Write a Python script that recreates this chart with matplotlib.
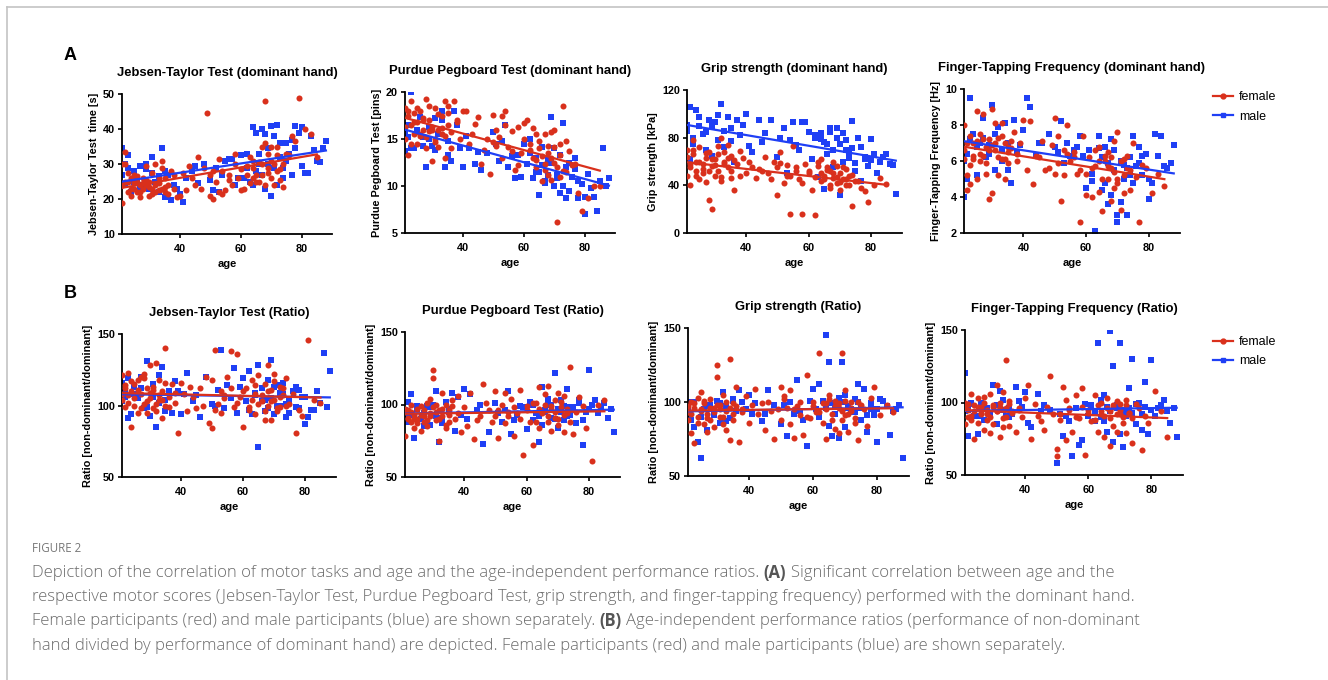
import matplotlib
matplotlib.use("Agg")
import matplotlib.pyplot as plt
from matplotlib.lines import Line2D
import numpy as np

W, H = 1328, 680
RED = "#d9301c"
BLUE = "#1f3ff5"
CAP = "#6b6b6b"

# participant ages (same participants in every panel)
FEMALE_AGE = [21, 21, 22, 22, 23, 23, 24, 24, 25, 25,
              26, 26, 27, 27, 28, 28, 29, 29, 30, 30,
              31, 31, 32, 32, 33, 33, 34, 34, 35, 35,
              36, 37, 38, 39, 40, 41, 42, 43, 45, 46,
              48, 49, 50, 50, 51, 52, 53, 53, 54, 55,
              56, 57, 58, 59, 60, 61, 62, 63, 64, 64,
              65, 66, 67, 67, 68, 68, 69, 69, 70, 70,
              71, 72, 72, 73, 74, 75, 77, 79, 81, 85,
              21, 22, 23, 24, 25, 26, 27, 28, 29, 30,
              31, 32, 33, 34, 35, 36, 38, 44, 47, 51,
              54, 56, 58, 60, 62, 63, 64, 65, 66, 67,
              68, 69, 70, 71, 72, 73, 74, 76, 78, 83]
MALE_AGE = [21, 22, 22, 23, 24, 25, 26, 27, 28, 29,
            30, 31, 32, 33, 34, 35, 36, 37, 38, 40,
            41, 42, 44, 46, 48, 50, 52, 53, 54, 55,
            57, 58, 60, 61, 62, 63, 64, 65, 65, 66,
            67, 68, 68, 69, 70, 70, 71, 72, 73, 74,
            75, 76, 77, 78, 79, 80, 82, 84, 86, 88,
            21, 23, 25, 27, 29, 31, 33, 35, 39, 45,
            51, 56, 59, 62, 64, 66, 67, 69, 71, 72,
            73, 74, 75, 77, 78, 80, 81, 83, 85, 87]

# A: dominant hand scores
JT_F = [19, 24, 30, 33.5, 25, 22, 26, 21, 23, 27,
        22, 25, 20.5, 24, 26, 23, 29.5, 24, 21, 25,
        23, 27.5, 22, 30, 24.5, 22.5, 29, 23, 22, 26,
        24, 28, 23, 20.5, 21, 27.5, 22.5, 29.5, 24, 32,
        29, 44.5, 21, 27, 20, 25, 22, 31.5, 28, 22.5,
        27, 24, 30, 26, 28.5, 23, 27, 32, 26, 29,
        25, 30.5, 35, 27, 48, 24, 29, 33, 26, 35,
        30, 28, 32.5, 25.5, 23.5, 33, 38, 48.8, 40, 32,
        30, 25, 27.5, 23, 24.5, 26.5, 22, 24.5, 25.5, 23.5,
        21.5, 24, 26, 31, 23.5, 21.5, 27, 26, 23, 28,
        21.5, 25.5, 33, 22.5, 29.5, 24.5, 31, 27, 25, 30,
        36, 27.5, 31, 24, 35, 28.5, 30, 32.5, 36.5, 38.5]
JT_M = [34.5, 30, 24, 32.5, 22, 28, 26, 29.5, 24, 28.5,
        23, 32, 25, 26.5, 34.5, 20.5, 27, 19.8, 24, 21.5,
        19.2, 26, 28, 24.5, 30, 25.5, 29, 22, 27, 31,
        31.5, 24, 32.5, 26, 29, 25, 40.5, 39, 28, 33,
        40, 38.5, 23, 30, 41, 21, 38, 41.2, 36, 26,
        31, 33, 37, 34.5, 39, 40.5, 27.5, 34, 30.5, 36.5,
        27, 29, 25, 23, 30, 27.5, 22, 28, 23, 29.5,
        22.5, 31.5, 26, 33, 24, 30, 27, 34.5, 29, 24,
        32, 29, 36, 27, 41, 29.5, 27.5, 38, 31, 34.5]
PP_F = [18.3, 15, 17.5, 13.3, 19, 16.5, 15.5, 17.8, 16.8, 14.5,
        18, 15.3, 16, 17.2, 19.3, 14, 15.8, 17, 16.3, 12.7,
        18.3, 15, 16, 14.2, 17.5, 15.5, 19, 13, 16.5, 18.5,
        14, 19, 16.8, 15, 18, 18, 14.5, 15.5, 17.3, 12.3,
        15, 11.3, 17.6, 14.7, 16, 15.2, 13, 17.4, 18, 14.2,
        15.8, 11.7, 16.3, 13.5, 16.7, 17, 14.5, 13, 15.5, 12,
        14, 10.5, 15.5, 12.3, 14.3, 11.2, 15.7, 13, 12.5, 16,
        6.2, 14.5, 11, 18.5, 11.5, 13.7, 12.3, 7.3, 8.7, 10,
        16.3, 18, 14.5, 16.8, 18.3, 15.5, 17, 15.2, 18.5, 16,
        14.7, 17.7, 16.2, 15.3, 17.8, 15.7, 17, 16.6, 13.8, 14.3,
        16.5, 13.7, 12.2, 15, 13.8, 16.2, 12.8, 14.8, 13.2, 11.7,
        13.5, 10.6, 14.2, 12, 13.3, 11.6, 14.8, 12.2, 9.3, 10]
PP_M = [13.7, 15.2, 16.5, 20, 14, 15.7, 17.3, 15.2, 12, 16.3,
        14.3, 17.2, 15.5, 18, 12, 14.8, 12.7, 18, 16.5, 12,
        15.3, 14, 12.3, 11.7, 13.5, 15.7, 12.7, 14.8, 16.5, 12,
        10.8, 13.3, 14.5, 12.3, 15, 10.8, 13, 9, 11.5, 14.2,
        10.3, 12.8, 11.2, 17.3, 10, 14, 10.8, 9.3, 16.7, 8.7,
        12.5, 11, 13, 8.7, 10.2, 7, 9.8, 7.3, 14, 10.8,
        15.5, 14, 16, 14.3, 15, 13.8, 17, 13.3, 14, 13.6,
        14.5, 13.2, 11, 13.5, 11.5, 12.2, 10.5, 12.5, 11.2, 13.3,
        10, 12, 9.5, 11.8, 10.5, 8.8, 11.3, 8.8, 10.5, 10]
GS_F = [48, 70, 40, 55, 66, 78, 52, 60, 45, 72,
        58, 50, 63, 43, 28, 68, 20, 56, 48, 62,
        73, 52, 44, 80, 60, 68, 55, 74, 46, 65,
        36, 58, 48, 63, 50, 60, 55, 46, 52, 64,
        45, 60, 32, 55, 68, 42, 57, 48, 16, 73,
        52, 45, 16, 58, 50, 36, 15, 56, 44, 62,
        48, 55, 38, 52, 60, 46, 42, 56, 50, 36,
        45, 54, 40, 48, 23, 44, 38, 26, 40, 41,
        64, 58, 70, 48, 60, 54, 67, 52, 62, 57,
        66, 47, 58, 63, 52, 61, 69, 54, 50, 59,
        48, 55, 42, 52, 47, 60, 50, 45, 53, 40,
        50, 47, 43, 55, 45, 40, 49, 44, 35, 46]
GS_M = [86, 106, 62, 75, 103, 90, 83, 70, 95, 65,
        93, 78, 108, 72, 97, 88, 60, 95, 82, 100,
        73, 68, 95, 84, 95, 64, 88, 50, 78, 93,
        70, 93, 85, 62, 80, 47, 84, 37, 76, 66,
        85, 70, 55, 88, 32, 75, 60, 78, 68, 94,
        52, 80, 44, 62, 56, 79, 50, 64, 58, 33,
        91, 80, 97, 85, 90, 99, 86, 77, 91, 76,
        80, 74, 93, 82, 79, 75, 88, 80, 84, 70,
        63, 71, 59, 72, 64, 61, 66, 60, 66, 57]
FT_F = [8.0, 6.1, 4.4, 5.2, 7.4, 4.7, 6.3, 7.0, 8.8, 5.0,
        6.0, 7.5, 8.6, 6.3, 6.8, 5.3, 3.9, 7.2, 8.9, 4.2,
        6.6, 8.1, 5.2, 7.3, 6.1, 8.1, 5.0, 7.0, 6.8, 5.9,
        7.1, 7.6, 6.4, 7.0, 8.3, 5.5, 8.2, 4.7, 6.2, 7.1,
        5.6, 6.9, 8.4, 5.3, 7.4, 3.8, 6.6, 5.2, 8.0, 6.0,
        6.5, 5.3, 2.6, 7.4, 4.1, 6.2, 4.0, 5.7, 6.8, 4.3,
        3.2, 6.0, 5.0, 6.5, 3.8, 5.6, 7.1, 4.5, 7.6, 5.0,
        3.3, 6.1, 4.2, 5.6, 4.4, 7.0, 2.6, 5.6, 4.2, 4.6,
        6.6, 7.0, 5.8, 6.1, 7.1, 6.4, 7.2, 5.9, 6.6, 6.9,
        7.0, 6.2, 7.4, 6.1, 6.5, 6.7, 6.0, 6.3, 5.5, 5.9,
        6.4, 6.2, 5.5, 5.3, 5.6, 6.6, 6.0, 5.0, 6.3, 5.7,
        6.2, 5.4, 4.8, 6.0, 5.2, 6.3, 5.5, 5.1, 5.8, 5.3]
FT_M = [4.0, 6.4, 5.0, 9.5, 7.5, 5.2, 7.0, 8.4, 6.2, 6.9,
        9.1, 5.5, 7.9, 6.0, 8.1, 5.5, 4.8, 8.3, 6.5, 7.7,
        9.5, 9.0, 6.3, 7.0, 7.5, 6.8, 8.2, 5.9, 7.0, 6.3,
        6.8, 7.4, 4.5, 6.6, 4.9, 2.1, 7.4, 6.2, 4.4, 6.8,
        3.6, 7.2, 4.1, 6.6, 2.6, 3.0, 3.7, 5.8, 3.0, 6.2,
        7.4, 5.7, 6.8, 5.2, 6.4, 3.9, 7.5, 7.4, 5.6, 6.9,
        6.0, 7.2, 6.8, 7.3, 6.4, 7.5, 6.6, 7.0, 6.9, 7.0,
        6.5, 6.6, 6.3, 5.3, 6.7, 4.8, 5.9, 5.5, 6.0, 5.0,
        5.6, 5.2, 4.8, 5.9, 6.3, 5.0, 4.8, 6.3, 5.7, 5.9]

# B: non-dominant / dominant ratios
JTR_F = [121, 104, 112, 99, 123, 107, 85, 110, 100, 115,
         95, 118, 108, 120, 101, 122, 112, 95, 128, 105,
         98, 111, 130, 96, 104, 118, 110, 91, 140, 100,
         106, 115, 102, 81, 116, 108, 96, 113, 98, 112,
         120, 88, 84, 118, 139, 101, 110, 95, 105, 120,
         138, 99, 136, 106, 85, 112, 97, 118, 108, 94,
         121, 103, 90, 115, 128, 100, 90, 111, 122, 104,
         96, 113, 99, 107, 119, 101, 81, 93, 146, 102,
         108, 114, 102, 117, 105, 111, 98, 119, 103, 109,
         113, 101, 107, 104, 116, 99, 109, 106, 100, 97,
         107, 112, 102, 110, 99, 104, 114, 101, 107, 96,
         110, 103, 117, 98, 106, 112, 100, 108, 97, 104]
JTR_M = [116, 106, 110, 91, 94, 113, 105, 120, 98, 131,
         93, 115, 85, 121, 127, 104, 110, 95, 117, 94,
         108, 123, 103, 92, 120, 101, 111, 139, 98, 114,
         126, 95, 119, 103, 124, 94, 107, 128, 71, 112,
         104, 118, 98, 132, 94, 113, 100, 109, 116, 92,
         104, 110, 99, 111, 106, 87, 97, 110, 137, 124,
         103, 119, 108, 112, 99, 106, 102, 96, 110, 107,
         100, 105, 113, 97, 109, 103, 96, 105, 114, 100,
         108, 101, 95, 113, 98, 106, 92, 97, 102, 99]
PPR_F = [78, 95, 90, 96, 88, 100, 93, 84, 97, 90,
         82, 99, 92, 88, 101, 85, 104, 94, 124, 118,
         89, 100, 75, 96, 92, 108, 84, 100, 96, 88,
         103, 90, 106, 81, 98, 85, 108, 76, 92, 114,
         96, 88, 109, 92, 77, 100, 87, 108, 95, 104,
         78, 94, 110, 65, 99, 88, 72, 101, 112, 84,
         95, 107, 88, 113, 97, 82, 103, 91, 108, 86,
         98, 81, 106, 94, 126, 80, 105, 84, 61, 103,
         97, 91, 95, 90, 87, 93, 96, 89, 92, 98,
         95, 90, 97, 86, 93, 99, 94, 89, 101, 96,
         92, 98, 90, 96, 101, 88, 97, 94, 100, 92,
         99, 95, 90, 102, 93, 97, 88, 95, 99, 100]
PPR_M = [92, 102, 88, 107, 77, 97, 90, 94, 99, 86,
         100, 109, 74, 91, 102, 95, 108, 82, 105, 111,
         90, 107, 96, 73, 81, 101, 88, 96, 109, 80,
         93, 99, 83, 102, 89, 94, 74, 112, 86, 95,
         104, 91, 100, 122, 84, 97, 103, 89, 111, 93,
         98, 87, 101, 72, 95, 124, 103, 97, 91, 81,
         96, 93, 99, 85, 98, 92, 87, 97, 93, 100,
         94, 89, 98, 100, 92, 96, 102, 90, 95, 99,
         92, 98, 96, 103, 89, 97, 100, 94, 101, 97]
GSR_F = [93, 88, 79, 100, 72, 96, 103, 90, 107, 95,
         85, 99, 92, 80, 102, 88, 96, 83, 125, 117,
         90, 98, 85, 105, 94, 81, 129, 74, 99, 88,
         110, 73, 95, 104, 86, 98, 109, 92, 81, 100,
         75, 95, 110, 88, 102, 96, 108, 85, 76, 97,
         91, 78, 118, 89, 100, 93, 133, 86, 99, 75,
         105, 92, 82, 101, 79, 96, 133, 88, 108, 91,
         80, 100, 94, 86, 74, 98, 84, 110, 91, 93,
         97, 92, 99, 86, 94, 101, 89, 96, 93, 98,
         95, 90, 100, 96, 92, 97, 93, 99, 94, 104,
         95, 100, 90, 97, 93, 99, 95, 102, 88, 97,
         99, 94, 101, 92, 96, 89, 100, 95, 103, 98]
GSR_M = [91, 100, 88, 83, 73, 62, 95, 81, 98, 91,
         101, 86, 107, 97, 89, 102, 94, 108, 100, 105,
         92, 99, 87, 108, 98, 85, 77, 100, 92, 115,
         88, 70, 109, 95, 112, 101, 145, 127, 84, 77,
         98, 76, 103, 127, 105, 83, 96, 93, 102, 112,
         88, 109, 80, 95, 91, 73, 101, 78, 95, 62,
         96, 100, 90, 97, 93, 99, 87, 101, 95, 92,
         98, 94, 101, 90, 96, 99, 92, 100, 97, 95,
         93, 100, 96, 91, 99, 95, 102, 97, 94, 98]
FTR_F = [85, 100, 95, 90, 106, 88, 75, 98, 103, 86,
         93, 97, 81, 104, 92, 88, 106, 79, 97, 85,
         112, 94, 76, 100, 83, 107, 129, 90, 101, 84,
         94, 80, 96, 90, 103, 112, 75, 99, 87, 81,
         118, 92, 63, 68, 88, 111, 74, 102, 96, 80,
         105, 89, 110, 64, 95, 87, 105, 80, 100, 92,
         76, 103, 70, 94, 98, 84, 101, 80, 92, 99,
         86, 102, 79, 93, 72, 99, 67, 86, 108, 76,
         96, 99, 91, 94, 97, 92, 100, 95, 90, 98,
         94, 97, 89, 96, 99, 93, 95, 91, 97, 92,
         95, 90, 97, 93, 88, 98, 94, 91, 96, 89,
         97, 92, 95, 90, 98, 93, 89, 96, 91, 94]
FTR_M = [120, 77, 95, 100, 91, 78, 100, 88, 96, 93,
         112, 85, 108, 102, 91, 96, 92, 111, 101, 107,
         86, 83, 106, 98, 95, 58, 77, 91, 87, 63,
         71, 74, 91, 98, 87, 141, 102, 87, 105, 80,
         149, 125, 73, 96, 141, 78, 69, 93, 110, 130,
         85, 100, 81, 114, 78, 129, 96, 102, 86, 76,
         94, 99, 91, 96, 93, 98, 95, 90, 97, 94,
         92, 96, 99, 93, 90, 97, 94, 98, 95, 91,
         96, 93, 99, 92, 97, 95, 91, 98, 94, 96]

TITLES = ["Jebsen-Taylor Test (dominant hand)", "Purdue Pegboard Test (dominant hand)",
          "Grip strength (dominant hand)", "Finger-Tapping Frequency (dominant hand)",
          "Jebsen-Taylor Test (Ratio)", "Purdue Pegboard Test (Ratio)",
          "Grip strength (Ratio)", "Finger-Tapping Frequency (Ratio)"]
YLABELS = ["Jebsen-Taylor Test  time [s]", "Purdue Pegboard Test [pins]",
           "Grip strength [kPa]", "Finger-Tapping Frequency [Hz]"] + \
          ["Ratio [non-dominant/dominant]"] * 4
YTICKS = [[10, 20, 30, 40, 50], [5, 10, 15, 20], [0, 40, 80, 120], [2, 4, 6, 8, 10]] + \
         [[50, 100, 150]] * 4
FEMALE_VALUES = [JT_F, PP_F, GS_F, FT_F, JTR_F, PPR_F, GSR_F, FTR_F]
MALE_VALUES = [JT_M, PP_M, GS_M, FT_M, JTR_M, PPR_M, GSR_M, FTR_M]

# axes boxes in pixels: left, top, right, bottom
BOXES = [(122, 94, 332, 234), (405, 92, 615, 233), (687, 90, 902, 233), (964, 89, 1180, 233),
         (122, 334, 336, 477), (405, 332, 620, 477), (688, 328, 909, 476), (965, 330, 1183, 475)]

plt.rcParams["font.family"] = ["Liberation Sans", "DejaVu Sans"]

fig = plt.figure(figsize=(W / 100, H / 100), dpi=100)


def draw_panel(ax, title, ylabel, yticks, female, male):
    fa, ma = np.array(FEMALE_AGE), np.array(MALE_AGE)
    fv, mv = np.array(female, float), np.array(male, float)
    ax.scatter(ma, mv, s=17, marker="s", color=BLUE, linewidths=0, zorder=2)
    ax.scatter(fa, fv, s=19, marker="o", color=RED, linewidths=0, zorder=3)
    for ages, vals, col in ((ma, mv, BLUE), (fa, fv, RED)):
        k, b = np.polyfit(ages, vals, 1)
        xs = np.array([ages.min(), ages.max()])
        ax.plot(xs, k * xs + b, color=col, lw=1.6, zorder=4)
    ax.set_xlim(21, 90)
    ax.set_ylim(yticks[0], yticks[-1])
    ax.set_xticks([40, 60, 80])
    ax.set_yticks(yticks)
    for side in ("top", "right"):
        ax.spines[side].set_visible(False)
    for side in ("left", "bottom"):
        ax.spines[side].set_linewidth(1.3)
    ax.tick_params(axis="both", width=1.2, length=3, labelsize=7.8)
    ax.tick_params(axis="x", pad=4)
    ax.tick_params(axis="y", pad=2)
    for lab in ax.get_xticklabels() + ax.get_yticklabels():
        lab.set_fontweight("bold")
    ax.set_title(title, fontsize=9.4, fontweight="bold", pad=13)
    ax.set_ylabel(ylabel, fontsize=7.8, fontweight="bold", labelpad=3)
    ax.set_xlabel("age", fontsize=8, fontweight="bold", labelpad=4)


for i, (l, t, r, b) in enumerate(BOXES):
    ax = fig.add_axes([l / W, 1 - b / H, (r - l) / W, (b - t) / H])
    draw_panel(ax, TITLES[i], YLABELS[i], YTICKS[i], FEMALE_VALUES[i], MALE_VALUES[i])

fig.text(70 / W, 1 - 55 / H, "A", fontsize=13, fontweight="bold", ha="center", va="center")
fig.text(70 / W, 1 - 293 / H, "B", fontsize=13, fontweight="bold", ha="center", va="center")

handles = [Line2D([], [], color=RED, marker="o", markersize=3.5, lw=1.6),
           Line2D([], [], color=BLUE, marker="s", markersize=3.5, lw=1.6)]
for top in (91, 336):
    fig.legend(handles, ["female", "male"], loc="upper left",
               bbox_to_anchor=(1213 / W, 1 - top / H), frameon=False, fontsize=9,
               borderpad=0, borderaxespad=0, handlelength=1.6, handletextpad=0.5,
               labelspacing=0.6)

# frame
fig.add_artist(Line2D([7 / W, 1], [1 - 7 / H, 1 - 7 / H], color="#c4c4c4", lw=1.2))
fig.add_artist(Line2D([7 / W, 7 / W], [0, 1 - 7 / H], color="#c4c4c4", lw=1.2))

# caption
renderer = fig.canvas.get_renderer()
CAP_FONT = ["Open Sans", "DejaVu Sans"]
CAP_SIZE = 12.0
fig.text(32 / W, 1 - 549 / H, "FIGURE 2", fontsize=8.3, family=CAP_FONT, color="#777777",
         va="center")

CAPTION = [
    [("Depiction of the correlation of motor tasks and age and the age-independent performance ratios.", False),
     ("(A)", True), ("Significant correlation between age and the", False)],
    [("respective motor scores (Jebsen-Taylor Test, Purdue Pegboard Test, grip strength, and finger-tapping frequency) performed with the dominant hand.", False)],
    [("Female participants (red) and male participants (blue) are shown separately.", False),
     ("(B)", True), ("Age-independent performance ratios (performance of non-dominant", False)],
    [("hand divided by performance of dominant hand) are depicted. Female participants (red) and male participants (blue) are shown separately.", False)],
]


def text_width(s, weight):
    t = fig.text(0, 0, s, fontsize=CAP_SIZE, family=CAP_FONT, weight=weight)
    w = t.get_window_extent(renderer).width
    t.remove()
    return w


space = text_width("x x", "light") - text_width("xx", "light")
for row, parts in enumerate(CAPTION):
    x = 32.0
    y = 573 + row * 24.2
    for text, bold in parts:
        weight = "bold" if bold else "light"
        t = fig.text(x / W, 1 - y / H, text, fontsize=CAP_SIZE, family=CAP_FONT,
                     weight=weight, color=CAP if not bold else "#555555", va="center")
        x = t.get_window_extent(renderer).x1 + space

fig.savefig("out.png", dpi=100)
